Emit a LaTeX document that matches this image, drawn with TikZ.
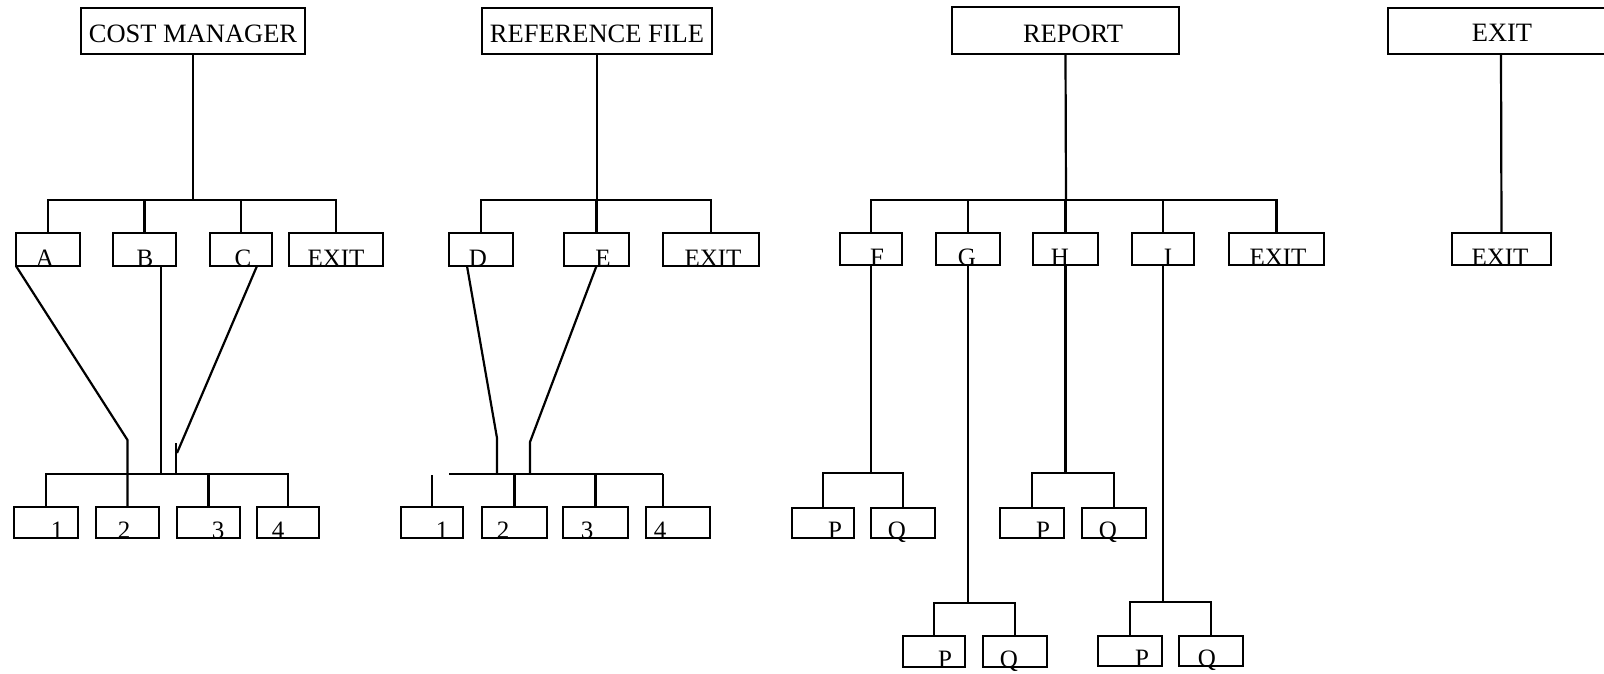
\documentclass[tikz,border=0pt]{standalone}
\usepackage{fontspec}
\setmainfont{Liberation Serif}
\usetikzlibrary{calc,fit}
\newcommand\mybox[5]{\node[box, fit={(#2,#3) (#4,#5)}] (#1) {};}
\begin{document}
\begin{tikzpicture}[x=1pt,y=-1pt,
  box/.style={draw, rectangle, line width=2.3pt, inner sep=0pt, outer sep=0pt},
  headlab/.style={anchor=base, inner sep=0pt, font=\fontsize{26.5}{30}\selectfont},
  lab/.style={anchor=base, inner sep=0pt, font=\fontsize{25}{30}\selectfont},
  link/.style={line width=2.2pt}]
\useasboundingbox (0,0) rectangle (1604,673);
\clip (0,0) rectangle (1604,673);

% ---------------- COST MANAGER ----------------
\mybox{CM}{81}{8}{305}{54}
\node[headlab] (tCM) at (193,42) {COST MANAGER};
\mybox{A}{16}{233}{80}{266}
\mybox{B}{113}{233}{176}{266}
\mybox{C}{210}{233}{272}{266}
\mybox{XA}{289}{233}{383}{266}
\node[lab] (tA) at (45,266) {A};
\node[lab] (tB) at (145,266) {B};
\node[lab] (tC) at (243,266) {C};
\node[lab] (tXA) at (336,266) {EXIT};
\mybox{a1}{14}{507}{78}{538}
\mybox{a2}{96}{507}{159}{538}
\mybox{a3}{177}{507}{240}{538}
\mybox{a4}{257}{507}{319}{538}
\node[lab] (ta1) at (57,538) {1};
\node[lab] (ta2) at (124,538) {2};
\node[lab] (ta3) at (218,538) {3};
\node[lab] (ta4) at (278,538) {4};

\coordinate (j1) at (193,200);
\draw[link] (CM.south) -- (j1);
\draw[link] (A.north) |- (j1) -| (XA.north);
\draw[link] (B.north) -- (B.north |- j1);
\draw[link] (C.north) -- (C.north |- j1);

\coordinate (j2) at (128,474);
\draw[link] (a1.north) |- (j2) -| (a4.north);
\draw[link] (a3.north) -- (a3.north |- j2);
\coordinate (kA) at (127.5,440);
\draw[link] (A.south west) -- (kA) -- (a2.north);
\coordinate (kB) at (161,474);
\draw[link] (kB |- B.south) -- (kB);
\coordinate (kC) at (177,453);
\coordinate (kCt) at (176,443);
\coordinate (kCb) at (176,474);
\draw[link] ($(C.south)+(16,0)$) -- (kC);
\draw[link] (kCt) -- (kCb);

% ---------------- REFERENCE FILE ----------------
\mybox{RF}{482}{8}{712}{54}
\node[headlab] (tRF) at (597,42) {REFERENCE FILE};
\mybox{D}{449}{233}{513}{266}
\mybox{E}{564}{233}{629}{266}
\mybox{XB}{663}{233}{759}{266}
\node[lab] (tD) at (478,266) {D};
\node[lab] (tE) at (603,266) {E};
\node[lab] (tXB) at (713,266) {EXIT};
\mybox{b1}{401}{507}{463}{538}
\mybox{b2}{482}{507}{547}{538}
\mybox{b3}{563}{507}{628}{538}
\mybox{b4}{646}{507}{710}{538}
\node[lab] (tb1) at (442,538) {1};
\node[lab] (tb2) at (503,538) {2};
\node[lab] (tb3) at (587,538) {3};
\node[lab] (tb4) at (660,538) {4};

\coordinate (j3) at (597,200);
\draw[link] (RF.south) -- (j3);
\draw[link] (D.north) |- (j3) -| (XB.north);
\draw[link] (E.north) -- (E.north |- j3);

\coordinate (j4a) at (449,474);
\coordinate (j4b) at (663,474);
\draw[link] (j4a) -- (j4b);
\draw[link] (j4b) -- (j4b |- b4.north);
\draw[link] (b2.north) -- (b2.north |- j4a);
\draw[link] (b3.north) -- (b3.north |- j4a);
\draw[link] (b1.north) -- ++(0,-32);
\coordinate (kD) at (497,438);
\draw[link] ($(D.south west)+(18,0)$) -- (kD) -- (kD |- j4a);
\coordinate (kE) at (530,442);
\draw[link] (E.south) -- (kE) -- (kE |- j4a);

% ---------------- REPORT ----------------
\mybox{REP}{952}{7}{1179}{54}
\node[headlab] (tREP) at (1073,42) {REPORT};
\mybox{F}{840}{233}{902}{265}
\mybox{G}{936}{233}{1000}{265}
\mybox{H}{1033}{233}{1098}{265}
\mybox{I}{1132}{233}{1194}{265}
\mybox{XC}{1229}{233}{1324}{265}
\node[lab] (tF) at (877,265) {F};
\node[lab] (tG) at (967,265) {G};
\node[lab] (tH) at (1060,265) {H};
\node[lab] (tI) at (1168,265) {I};
\node[lab] (tXC) at (1278,265) {EXIT};

\coordinate (j5) at (1066,200);
\draw[link] (REP.south) -- (j5);
\draw[link] (F.north) |- (j5) -| (XC.north);
\draw[link] (G.north) -- (G.north |- j5);
\draw[link] (H.north) -- (H.north |- j5);
\draw[link] (I.north) -- (I.north |- j5);

% F: P, Q
\mybox{fP}{792}{508}{854}{538}
\mybox{fQ}{871}{508}{935}{538}
\node[lab] (tfP) at (835,538) {P};
\node[lab] (tfQ) at (897,538) {Q};
\coordinate (j6) at (871,473);
\draw[link] (F.south) -- (j6);
\draw[link] (fP.north) |- (j6) -| (fQ.north);

% H: P, Q
\mybox{hP}{1000}{508}{1064}{538}
\mybox{hQ}{1082}{508}{1146}{538}
\node[lab] (thP) at (1043,538) {P};
\node[lab] (thQ) at (1108,538) {Q};
\coordinate (j7) at (1065.5,473);
\draw[link] (H.south) -- (j7);
\draw[link] (hP.north) |- (j7) -| (hQ.north);

% G: P, Q
\mybox{gP}{903}{636}{965}{667}
\mybox{gQ}{983}{636}{1047}{667}
\node[lab] (tgP) at (945,667) {P};
\node[lab] (tgQ) at (1009,667) {Q};
\coordinate (j8) at (968,603);
\draw[link] (G.south) -- (j8);
\draw[link] (gP.north) |- (j8) -| (gQ.north);

% I: P, Q
\mybox{iP}{1098}{636}{1162}{666}
\mybox{iQ}{1179}{636}{1243}{666}
\node[lab] (tiP) at (1142,666) {P};
\node[lab] (tiQ) at (1207,666) {Q};
\coordinate (j9) at (1163,602);
\draw[link] (I.south) -- (j9);
\draw[link] (iP.north) |- (j9) -| (iQ.north);

% ---------------- EXIT ----------------
\mybox{XT}{1388}{8}{1614}{54}
\node[headlab] (tXT) at (1502,41) {EXIT};
\mybox{XD}{1452}{233}{1551}{265}
\node[lab] (tXD) at (1500,265) {EXIT};
\draw[link] (XT.south) -- (XD.north);
\end{tikzpicture}
\end{document}
